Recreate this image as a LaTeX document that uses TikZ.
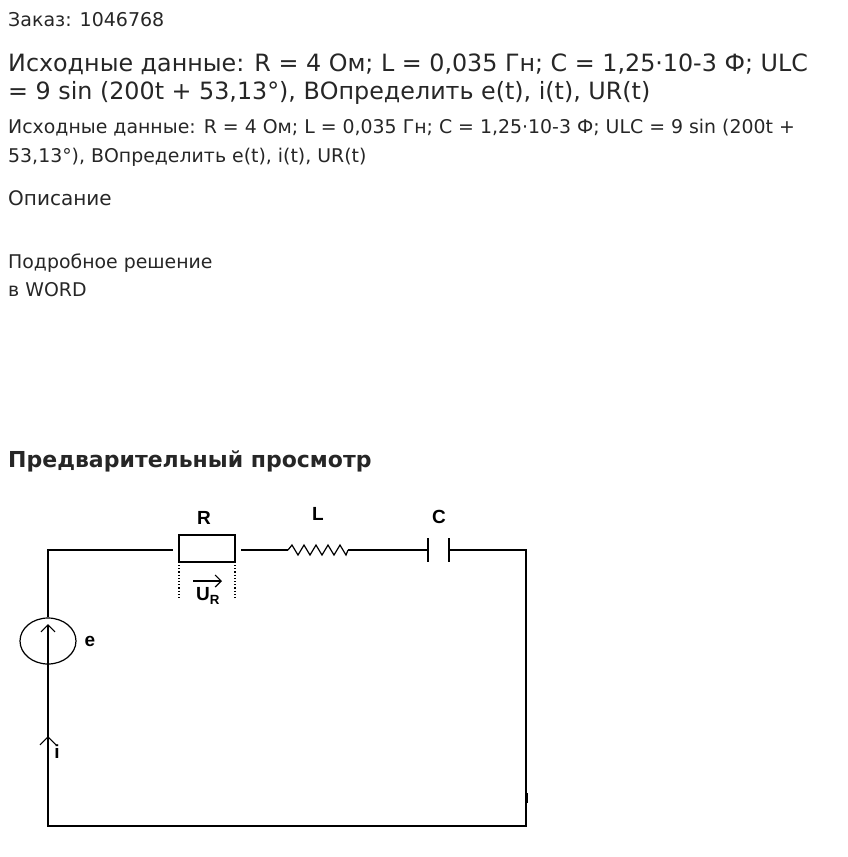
\documentclass[tikz,border=0pt]{standalone}
\usepackage{fontspec}
\setmainfont{DejaVu Sans}
\newfontfamily\lblfont{Liberation Sans}
\usetikzlibrary{arrows.meta, shapes.geometric}
\tikzset{txt/.style={anchor=base west, inner sep=0pt, text=black!85},
  wire/.style={line width=1.2pt},
  lbl/.style={font=\lblfont\bfseries\fontsize{19}{19}\selectfont}}
\begin{document}
\begin{tikzpicture}[x=1pt,y=-1pt]
\useasboundingbox (0,0) rectangle (847,857);
% header text
\node (order) [txt, font=\fontsize{19}{19}\selectfont] at (8,26) {Заказ: 1046768};
\node (title1) [txt, font=\fontsize{23.8}{23.8}\selectfont] at (8,71) {Исходные данные: R = 4 Ом; L = 0,035 Гн; C = 1,25·10-3 Ф; ULC};
\node (title2) [txt, font=\fontsize{23.8}{23.8}\selectfont] at (8,99) {= 9 sin (200t + 53,13°), BОпределить e(t), i(t), UR(t)};
\node (body1) [txt, font=\fontsize{18.9}{18.9}\selectfont] at (8,133) {Исходные данные: R = 4 Ом; L = 0,035 Гн; C = 1,25·10-3 Ф; ULC = 9 sin (200t +};
\node (body2) [txt, font=\fontsize{18.9}{18.9}\selectfont] at (8,162) {53,13°), BОпределить e(t), i(t), UR(t)};
\node (desc) [txt, font=\fontsize{20}{20}\selectfont] at (8,205) {Описание};
\node (sol1) [txt, font=\fontsize{18.9}{18.9}\selectfont] at (8,268) {Подробное решение};
\node (sol2) [txt, font=\fontsize{18.9}{18.9}\selectfont] at (8,296) {в WORD};
\node (prev) [txt, font=\bfseries\fontsize{22}{22}\selectfont] at (8,467) {Предварительный просмотр};
% circuit
\coordinate (tl) at (48,550);
\coordinate (tr) at (526,550);
\coordinate (bl) at (48,826);
\coordinate (br) at (527,826);
\node (res) [draw, wire, minimum width=56pt, minimum height=27pt, inner sep=0pt] at (207,548.5) {};
\node (src) [draw, wire, ellipse, minimum width=56pt, minimum height=46pt, inner sep=0pt] at (48,641) {};
\coordinate (l1) at (288,550);
\coordinate (l2) at (348,550);
\coordinate (c1) at (428,550);
\coordinate (c2) at (449,550);
\draw[wire] (src.north) -- (tl) -- (173,550);
\draw[wire] (241,550) -- (l1);
\draw[wire] (l1) -- ++(4,-5) -- ++(6,10) -- ++(6,-10) -- ++(6,10) -- ++(6,-10) -- ++(6,10) -- ++(6,-10) -- ++(6,10) -- ++(6,-10) -- ++(6,10) -- (l2);
\draw[wire] (l2) -- (c1);
\draw[wire] (c1 |- 0,538) -- (c1 |- 0,562);
\draw[wire] (c2 |- 0,538) -- (c2 |- 0,562);
\draw[wire] (c2) -- (tr) -- (526,826);
\draw[wire] (src.south) -- (bl) -- (br);
\draw[wire] (527,793) -- (527,803);
\draw[wire, dotted] (179,565) -- (179,600);
\draw[wire, dotted] (235,565) -- (235,600);
\draw[wire, -{Straight Barb[length=6pt]}] (193,581) -- (222,581);
\draw[wire, -{Straight Barb[length=7pt]}] (src.south) -- (48,624);
\draw[wire, -{Straight Barb[length=8pt]}] (48,755) -- (48,736);
\node (rl) [lbl] at (204,518) {R};
\node (ll) [lbl] at (318,514) {L};
\node (cl) [lbl] at (439,517) {C};
\node (el) [lbl] at (90,641) {e};
\node (il) [lbl] at (57,752) {i};
\node (ur) [lbl] at (208,596) {U\textsubscript{R}};
\end{tikzpicture}
\end{document}
